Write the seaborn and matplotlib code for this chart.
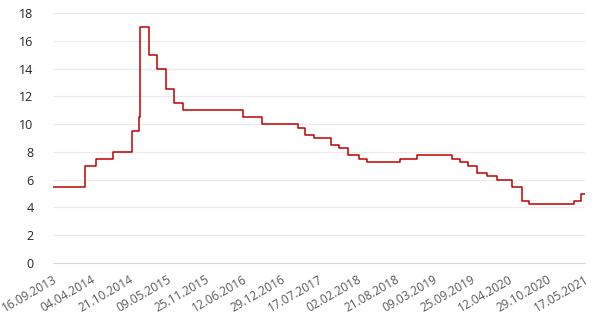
import matplotlib
matplotlib.use("Agg")
import matplotlib.pyplot as plt
import matplotlib.dates as mdates
import seaborn as sns
import pandas as pd

dates = ["16.09.2013", "03.03.2014", "28.04.2014", "28.07.2014", "05.11.2014",
         "12.12.2014", "16.12.2014", "02.02.2015", "16.03.2015", "05.05.2015",
         "16.06.2015", "03.08.2015", "14.06.2016", "19.09.2016", "27.03.2017",
         "02.05.2017", "19.06.2017", "18.09.2017", "30.10.2017", "18.12.2017",
         "12.02.2018", "26.03.2018", "17.09.2018", "17.12.2018", "17.06.2019",
         "29.07.2019", "09.09.2019", "28.10.2019", "16.12.2019", "10.02.2020",
         "27.04.2020", "22.06.2020", "27.07.2020", "22.03.2021", "26.04.2021",
         "17.05.2021"]
rates = [5.5, 7.0, 7.5, 8.0, 9.5, 10.5, 17.0, 15.0, 14.0, 12.5, 11.5, 11.0,
         10.5, 10.0, 9.75, 9.25, 9.0, 8.5, 8.25, 7.75, 7.5, 7.25, 7.5, 7.75,
         7.5, 7.25, 7.0, 6.5, 6.25, 6.0, 5.5, 4.5, 4.25, 4.5, 5.0, 5.0]
tick_labels = ["16.09.2013", "04.04.2014", "21.10.2014", "09.05.2015", "25.11.2015",
               "12.06.2016", "29.12.2016", "17.07.2017", "02.02.2018", "21.08.2018",
               "09.03.2019", "25.09.2019", "12.04.2020", "29.10.2020", "17.05.2021"]

df = pd.DataFrame({"date": pd.to_datetime(dates, format="%d.%m.%Y"), "rate": rates})

sns.set_style("white")
plt.rcParams["font.family"] = ["Open Sans", "DejaVu Sans"]

fig = plt.figure(figsize=(6, 3.14), dpi=100)
ax = fig.add_axes([53/600, 1-263/314, (585-53)/600, (263-13)/314])

sns.lineplot(data=df, x="date", y="rate", ax=ax, color="#C00000",
             drawstyle="steps-post", linewidth=1.1)

ticks = pd.to_datetime(tick_labels, format="%d.%m.%Y")
ax.set_xticks(mdates.date2num(ticks))
ax.set_xticklabels(tick_labels, rotation=30, ha="right", rotation_mode="anchor",
                   color="#595959", fontsize=8.6)
ax.set_xlim(mdates.date2num(ticks[0]), mdates.date2num(ticks[-1]))
ax.set_ylim(0, 18)
ax.set_yticks(range(0, 19, 2))
ax.tick_params(axis="y", length=0, labelsize=9, labelcolor="#262626", pad=14)
ax.tick_params(axis="x", length=4, color="#D9D9D9", width=1, pad=3)
ax.grid(axis="y", color="#EBEBEB", linewidth=1)
ax.set_axisbelow(True)
for s in ["top", "right", "left"]:
    ax.spines[s].set_visible(False)
ax.spines["bottom"].set_color("#D9D9D9")
ax.set_xlabel("")
ax.set_ylabel("")

fig.savefig("out.png", dpi=100, facecolor="white")
